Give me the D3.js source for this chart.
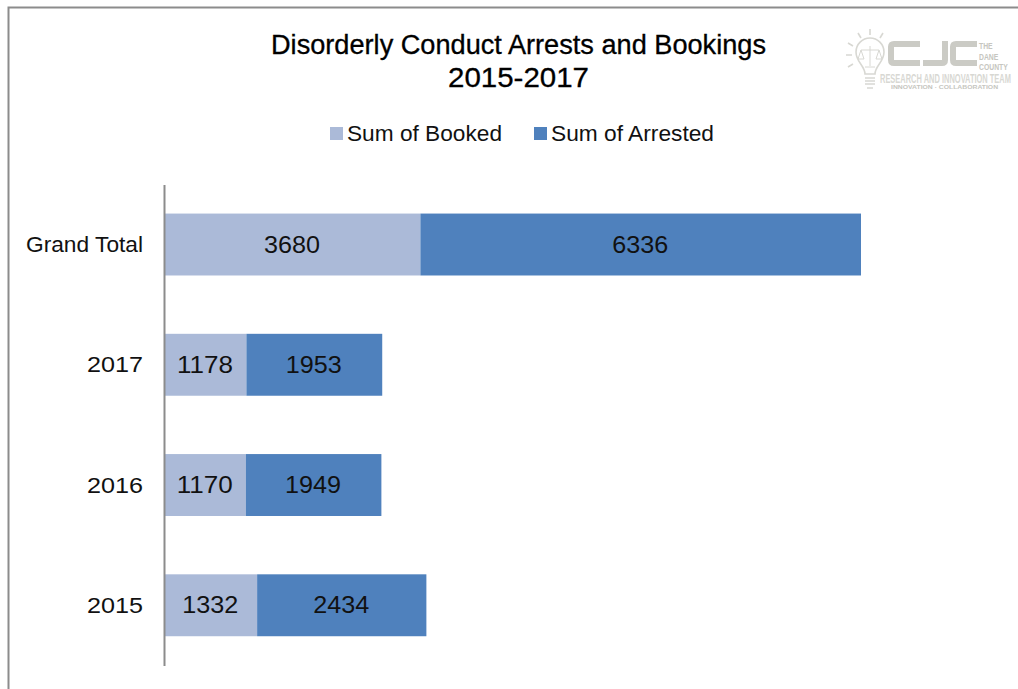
<!DOCTYPE html>
<html><head><meta charset="utf-8">
<script src="https://cdn.jsdelivr.net/npm/d3@7/dist/d3.min.js"></script>
<style>html,body{margin:0;padding:0;background:#fff}svg{display:block}text{font-family:"Liberation Sans",Arial,sans-serif}</style>
</head><body><svg id="c" width="1018" height="689"></svg>
<script>
const categories = ["Grand Total","2017","2016","2015"];
const seriesNames = ["Sum of Booked","Sum of Arrested"];
const booked = [3680,1178,1170,1332];
const arrested = [6336,1953,1949,2434];
const colors = ["#abbad8","#4f81bd"];
const titleLines = ["Disorderly Conduct Arrests and Bookings","2015-2017"];

const svg = d3.select("#c");
const frame = "#8c8c8c";
svg.append("path").attr("d","M8.5,689V7.5H1018").attr("fill","none").attr("stroke",frame).attr("stroke-width",2);

const x = d3.scaleLinear().domain([0,10016]).range([164.5,861]);
const y = d3.scaleBand().domain(categories).range([184.4,665.4]).paddingInner(0.485).paddingOuter(0.2425);

// Title
svg.append("g").selectAll("text").data(titleLines).join("text")
  .attr("x",518.5).attr("y",(d,i)=>54+i*33).attr("text-anchor","middle")
  .attr("font-size",27).attr("fill","#000").attr("stroke","#000").attr("stroke-width",0.3)
  .attr("textLength",(d,i)=>i?141:495).attr("lengthAdjust","spacingAndGlyphs").text(d=>d);

// Legend
const lg = svg.append("g");
[[330,347,155],[534,551,163]].forEach((p,i)=>{
  lg.append("rect").attr("x",p[0]).attr("y",127).attr("width",13).attr("height",13).attr("fill",colors[i]);
  lg.append("text").attr("x",p[1]).attr("y",141).attr("font-size",22).attr("fill","#111")
    .attr("textLength",p[2]).attr("lengthAdjust","spacingAndGlyphs").text(seriesNames[i]);
});

// Bars
const rows = categories.map((c,i)=>({c,b:booked[i],a:arrested[i]}));
const g = svg.append("g");
g.selectAll("rect.b").data(rows).join("rect").attr("class","b")
  .attr("x",x(0)).attr("y",d=>y(d.c)).attr("width",d=>x(d.b)-x(0)).attr("height",y.bandwidth()).attr("fill",colors[0]);
g.selectAll("rect.a").data(rows).join("rect").attr("class","a")
  .attr("x",d=>x(d.b)).attr("y",d=>y(d.c)).attr("width",d=>x(d.b+d.a)-x(d.b)).attr("height",y.bandwidth()).attr("fill",colors[1]);
const lab = (cls,val,mid)=>g.selectAll("text."+cls).data(rows).join("text").attr("class",cls)
  .attr("x",mid).attr("y",d=>y(d.c)+y.bandwidth()/2+8).attr("text-anchor","middle")
  .attr("font-size",23).attr("fill","#111").attr("textLength",56).attr("lengthAdjust","spacingAndGlyphs").text(val);
lab("lb",d=>d.b,d=>(x(0)+x(d.b))/2-0.5);
lab("la",d=>d.a,d=>(x(d.b)+x(d.b+d.a))/2-0.5);

// Axis
const ax = svg.append("g").attr("transform","translate(164,0)").call(d3.axisLeft(y).tickSize(0).tickPadding(21));
ax.select(".domain").attr("stroke","#8c8c8c").attr("stroke-width",2);
ax.selectAll("text").attr("font-size",22.5).attr("fill","#111").attr("font-family",'"Liberation Sans",Arial,sans-serif')
  .attr("dy","0.34em").attr("textLength",d=>d==="Grand Total"?117:56).attr("lengthAdjust","spacingAndGlyphs");

// Logo
const logo = svg.append("g");
const lc="#d8d8d3";
logo.append("path").attr("fill","none").attr("stroke",lc).attr("stroke-width",1.6)
 .attr("d","M865,74C865,66 856,62 856,52A14,14 0 1 1 884,52C884,62 875,66 875,74Z M865,78H875M865,81H875M865,84H875M867,88H873");
logo.append("path").attr("fill","none").attr("stroke",lc).attr("stroke-width",1.6)
 .attr("d","M870,29V35M858,33L861,38M883,33L880,38M848,43L853,46M846,55H852M848,67L853,64");
logo.append("path").attr("fill","none").attr("stroke",lc).attr("stroke-width",1)
 .attr("d","M870,46V66M861,50H879M861,50L858,59H864ZM879,50L876,59H882Z M865,67H875");
logo.append("path").attr("fill","none").attr("stroke","#cbcbc5").attr("stroke-width",6)
 .attr("d","M920,44H894Q891,44 891,47V60Q891,63 894,63H920 M945,41V60Q945,63 942,63H923 M977,44H956Q953,44 953,47V60Q953,63 956,63H977");
const t=(s,xp,yp,fs,sx,col)=>logo.append("text").attr("transform",`translate(${xp},${yp}) scale(${sx},1)`).attr("font-size",fs).attr("fill",col||"#c6c6c0")
  .attr("font-weight",700).text(s);
t("THE",979,49,9,.76); t("DANE",979,59.5,9,.76); t("COUNTY",979,70,9,.76);
t("RESEARCH AND INNOVATION TEAM",880,83,13,.575,"#d8d8d3");
t("INNOVATION  ·  COLLABORATION",891,89,4.5,1.52,"#c6c6c0");
</script></body></html>
